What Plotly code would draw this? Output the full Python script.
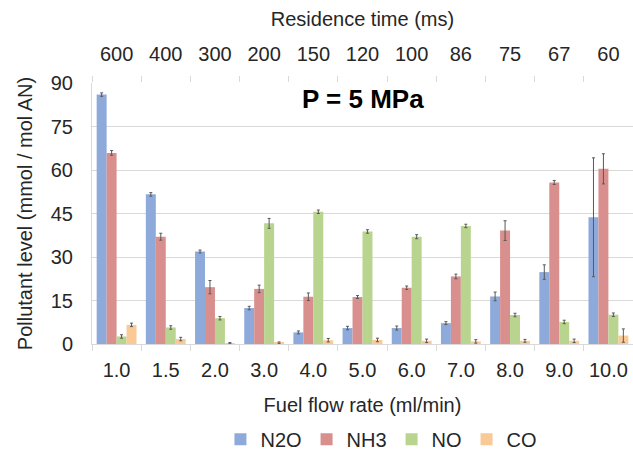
import plotly.graph_objects as go

flow_rates = ["1.0", "1.5", "2.0", "3.0", "4.0", "5.0", "6.0", "7.0", "8.0", "9.0", "10.0"]
residence_times = ["600", "400", "300", "200", "150", "120", "100", "86", "75", "67", "60"]

n2o = [86.0, 51.6, 31.9, 12.4, 4.0, 5.5, 5.5, 7.2, 16.4, 24.8, 43.7]
nh3 = [65.9, 37.0, 19.6, 19.0, 16.3, 16.2, 19.4, 23.3, 39.1, 55.7, 60.4]
no = [2.6, 5.7, 8.9, 41.6, 45.6, 38.8, 37.0, 40.7, 10.0, 7.6, 10.1]
co = [6.6, 1.7, 0.3, 0.4, 1.3, 1.4, 1.1, 0.9, 1.1, 1.1, 2.9]

n2o_err = [0.6, 0.6, 0.5, 0.6, 0.5, 0.6, 0.7, 0.5, 1.5, 2.5, 20.5]
nh3_err = [0.8, 1.2, 2.3, 1.3, 1.3, 0.5, 0.6, 0.8, 3.4, 0.7, 5.2]
no_err = [0.6, 0.6, 0.6, 1.7, 0.6, 0.6, 0.7, 0.6, 0.6, 0.6, 0.6]
co_err = [0.6, 0.6, 0.2, 0.3, 0.6, 0.6, 0.6, 0.6, 0.5, 0.6, 2.3]

series = [
    ("N2O", n2o, n2o_err, "#8EAADB"),
    ("NH3", nh3, nh3_err, "#D98F8D"),
    ("NO", no, no_err, "#B8D48E"),
    ("CO", co, co_err, "#F9C996"),
]

FONT = "Liberation Sans, Arial, sans-serif"
TXT = "#262626"
GRID = "#D9D9D9"

fig = go.Figure()
for name, vals, errs, color in series:
    fig.add_trace(go.Bar(
        x=flow_rates, y=vals, name=name,
        marker=dict(color=color, line=dict(width=0)),
        error_y=dict(type="data", array=errs, visible=True,
                     color="#595959", thickness=1, width=1.5),
    ))

# invisible trace to carry the top (residence time) category axis
fig.add_trace(go.Scatter(
    x=residence_times, y=[0] * len(residence_times), xaxis="x2",
    mode="markers", marker=dict(opacity=0), showlegend=False, hoverinfo="skip",
))

fig.add_annotation(
    text="<b>P = 5 MPa</b>", xref="paper", x=0.5, yref="y", y=84.5,
    showarrow=False, font=dict(family=FONT, size=26, color="#000000"),
    xanchor="center", yanchor="middle",
)

fig.update_layout(
    width=633, height=451,
    margin=dict(l=92, r=0, t=83, b=107, autoexpand=False),
    paper_bgcolor="white", plot_bgcolor="white",
    font=dict(family=FONT, size=20, color=TXT),
    barmode="group", bargap=0.19, bargroupgap=0,
    xaxis=dict(
        type="category", range=[-0.5, 10.5], automargin=False,
        tickson="boundaries", ticks="outside", ticklen=6, tickcolor=GRID,
        showline=True, linecolor=GRID, linewidth=1, showgrid=False,
        tickfont=dict(size=20, color=TXT), ticklabelstandoff=8,
        title=dict(text="Fuel flow rate (ml/min)", font=dict(size=20, color=TXT), standoff=17),
    ),
    xaxis2=dict(
        type="category", overlaying="x", side="top", range=[-0.5, 10.5], automargin=False,
        tickson="boundaries", ticks="outside", ticklen=6, tickcolor=GRID,
        showline=False, showgrid=False,
        tickfont=dict(size=20, color=TXT), ticklabelstandoff=17,
        title=dict(text="Residence time (ms)", font=dict(size=20, color=TXT), standoff=11),
    ),
    yaxis=dict(
        range=[0, 90], tickvals=[0, 15, 30, 45, 60, 75, 90], automargin=False,
        showgrid=True, gridcolor=GRID, gridwidth=1, zeroline=False,
        showline=True, linecolor=GRID, linewidth=1,
        ticks="", ticklabelstandoff=14,
        tickfont=dict(size=20, color=TXT),
        title=dict(text="Pollutant level (mmol / mol AN)", font=dict(size=20, color=TXT), standoff=12),
    ),
    legend=dict(
        orientation="h", x=0.535, xanchor="center", y=-0.29, yanchor="top",
        font=dict(size=20, color=TXT), itemwidth=30, traceorder="normal",
    ),
)

fig.write_html("out.html")
